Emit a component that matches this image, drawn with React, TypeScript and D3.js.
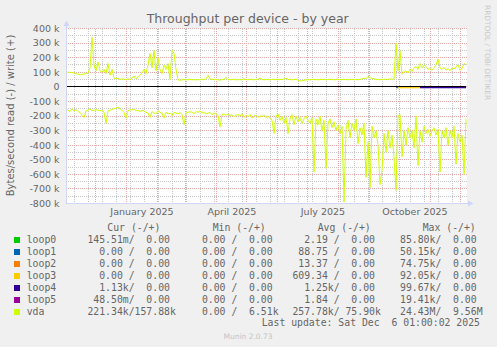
import React from 'react';
import * as d3 from 'd3';

const W = 497;
const H = 347;

// time axis: 400 days ending at last update
const startTime = Date.UTC(2024, 10, 1, 1, 0, 2);
const endTime = Date.UTC(2025, 11, 6, 1, 0, 2);
const stepDays = 2;
const minorGridStart = Date.UTC(2024, 10, 10);

// vda write (+), kB/s, one value every 2 days
const vdaWrite = [
  103, 100, 100, 98, 95, 90, 88, 82, 85, 88, 90, 95,
  130, 340, 150, 110, 170, 110, 100, 120, 90, 160, 80, 120,
  60, 55, 58, 50, 55, 52, 48, 55, 50, 60, 75, 55,
  65, 80, 95, 120, 90, 150, 230, 130, 250, 110, 200, 120,
  90, 150, 120, 160, 50, 250, 230, 120, 48, 45, 48, 50,
  47, 50, 52, 48, 50, 47, 50, 48, 52, 50, 55, 78,
  55, 50, 52, 48, 50, 45, 50, 52, 65, 50, 48, 50,
  52, 47, 50, 48, 50, 55, 50, 48, 52, 50, 48, 50,
  52, 60, 50, 48, 52, 50, 48, 50, 52, 48, 50, 52,
  50, 55, 60, 50, 52, 48, 50, 52, 45, 40, 42, 45,
  48, 50, 48, 50, 52, 50, 48, 50, 52, 50, 48, 50,
  52, 50, 48, 50, 52, 48, 50, 52, 50, 48, 50, 52,
  50, 48, 50, 52, 55, 60, 55, 72, 62, 58, 55, 50,
  52, 48, 50, 52, 50, 52, 55, 50, 55, 300, 110, 245,
  90, 100, 110, 95, 120, 105, 130, 140, 120, 160, 130, 150,
  140, 120, 125, 115, 130, 150, 190, 130, 120, 135, 115, 125,
  110, 130, 120, 140, 150, 115, 125, 160, 150,
];

// vda read (-), kB/s, one value every 2 days
const vdaRead = [
  155, 160, 170, 150, 165, 155, 170, 175, 195, 210, 165, 160,
  150, 165, 160, 158, 160, 165, 160, 175, 250, 165, 160, 155,
  150, 145, 140, 150, 160, 175, 215, 165, 155, 160, 150, 165,
  160, 170, 160, 165, 175, 180, 210, 170, 180, 185, 165, 175,
  180, 215, 175, 185, 180, 195, 175, 180, 185, 175, 190, 260,
  180, 175, 170, 175, 185, 170, 175, 165, 180, 175, 185, 180,
  175, 190, 180, 185, 195, 275, 190, 185, 195, 185, 200, 190,
  205, 195, 190, 200, 185, 210, 195, 205, 190, 215, 200, 195,
  210, 200, 205, 195, 210, 200, 215, 230, 320, 200, 185, 230,
  200, 250, 210, 320, 220, 190, 260, 200, 240, 210, 250, 220,
  200, 230, 250, 210, 585, 220, 260, 200, 300, 230, 560, 250,
  220, 280, 240, 300, 260, 320, 270, 790, 290, 230, 350, 250,
  300, 220, 390, 280, 330, 250, 620, 380, 690, 270, 350, 300,
  400, 670, 575, 320, 450, 300, 420, 330, 480, 710, 200, 190,
  480, 300, 400, 280, 350, 300, 420, 200, 540, 300, 380, 270,
  320, 290, 340, 300, 280, 330, 290, 585, 300, 350, 280, 400,
  300, 350, 270, 530, 320, 380, 330, 600, 220,
];

// small loop device reads near zero (day index, kB/s)
const loop1Days = [330, 332];
const loop1Read = [6, 6];
const loop3Days = [332, 354];
const loop3Read = [6, 6];
const loop4Days = [354, 400];
const loop4Read = [6, 6];

const yTicks = [400, 300, 200, 100, 0, -100, -200, -300, -400, -500, -600, -700, -800];
const yMinorTicks = [350, 250, 150, 50, -50, -150, -250, -350, -450, -550, -650, -750];

const seriesNames = ['loop0', 'loop1', 'loop2', 'loop3', 'loop4', 'loop5', 'vda'];
const seriesColors = ['#00CC00', '#0066B3', '#FF8000', '#FFCC00', '#330099', '#990099', '#CCFF00'];
const curCol = ['145.51m/  0.00 ', '  0.00 /  0.00 ', '  0.00 /  0.00 ', '  0.00 /  0.00 ', '  1.13k/  0.00 ', ' 48.50m/  0.00 ', '221.34k/157.88k'];
const minCol = ['  0.00 /  0.00 ', '  0.00 /  0.00 ', '  0.00 /  0.00 ', '  0.00 /  0.00 ', '  0.00 /  0.00 ', '  0.00 /  0.00 ', '  0.00 /  6.51k'];
const avgCol = ['  2.19 /  0.00 ', ' 88.75 /  0.00 ', ' 13.37 /  0.00 ', '609.34 /  0.00 ', '  1.25k/  0.00 ', '  1.84 /  0.00 ', '257.78k/ 75.90k'];
const maxCol = [' 85.80k/  0.00 ', ' 50.15k/  0.00 ', ' 74.75k/  0.00 ', ' 92.05k/  0.00 ', ' 99.67k/  0.00 ', ' 19.41k/  0.00 ', ' 24.43M/  9.56M'];
const headers = ['Cur (-/+)', 'Min (-/+)', 'Avg (-/+)', 'Max (-/+)'];

const FONT = '"DejaVu Sans", sans-serif';
const MONO = '"DejaVu Sans Mono", monospace';
const TXT = '#666666';

export default function App() {
  const DAY = 86400000;
  const x = d3.scaleUtc().domain([new Date(startTime), new Date(endTime)]).range([66, 466]);
  const y = d3.scaleLinear().domain([-800, 400]).range([203.5, 28.5]);
  const crisp = (v: number) => Math.floor(v) + 0.5;

  const dates = vdaWrite.map((_, i) => new Date(startTime + i * stepDays * DAY));
  const line = d3.line<[Date, number]>().x(d => x(d[0])).y(d => y(d[1]));
  const writePath = line(vdaWrite.map((v, i) => [dates[i], v] as [Date, number])) || '';
  const readPath = line(vdaRead.map((v, i) => [dates[i], -v] as [Date, number])) || '';
  const smallPath = (days: number[], vals: number[]) =>
    line(days.map((dd, i) => [new Date(startTime + dd * DAY), -vals[i]] as [Date, number])) || '';

  const majorV = d3.utcMonth.range(new Date(startTime), new Date(endTime));
  const minorV: Date[] = [];
  for (let t = minorGridStart; t < endTime; t += 14 * DAY) minorV.push(new Date(t));
  const labelMonths = d3.utcMonth.every(3)!.range(new Date(startTime), new Date(endTime));
  const fmt = d3.utcFormat('%B %Y');

  const cw = 5.9;
  const fieldEnds = [170, 272.7, 375, 476.7];
  const fieldStarts = fieldEnds.map(e => e - 14 * cw);
  const headerX = [107.3, 212.7, 317.7, 422.7];
  const cols = [curCol, minCol, avgCol, maxCol];

  return (
    <svg width={W} height={H} style={{ position: 'absolute', left: 0, top: 0 }}>
      <rect x={0} y={0} width={W} height={H} fill="#F0F0F0" />
      <rect x={66} y={28} width={401} height={176} fill="#FFFFFF" />

      {/* minor grid */}
      <g stroke="#C8C8C8" strokeWidth={1} strokeDasharray="1,1" shapeRendering="crispEdges">
        {minorV.map((d, i) => (
          <line key={'mv' + i} x1={crisp(x(d))} x2={crisp(x(d))} y1={28.5} y2={203.5} />
        ))}
        {yMinorTicks.map((t, i) => (
          <line key={'mh' + i} x1={66} x2={467} y1={crisp(y(t))} y2={crisp(y(t))} />
        ))}
      </g>
      {/* major grid */}
      <g stroke="#E8A8A8" strokeWidth={1} strokeDasharray="1,1" shapeRendering="crispEdges">
        {majorV.map((d, i) => (
          <line key={'Mv' + i} x1={crisp(x(d))} x2={crisp(x(d))} y1={28.5} y2={203.5} />
        ))}
        {yTicks.map((t, i) => (
          <line key={'Mh' + i} x1={66} x2={467} y1={crisp(y(t))} y2={crisp(y(t))} />
        ))}
      </g>

      {/* zero line */}
      <line x1={66} x2={466} y1={crisp(y(0))} y2={crisp(y(0))} stroke="#000" strokeWidth={1} shapeRendering="crispEdges" />

      {/* small loop device lines */}
      <path d={smallPath(loop1Days, loop1Read)} fill="none" stroke={seriesColors[1]} strokeWidth={1} />
      <path d={smallPath(loop3Days, loop3Read)} fill="none" stroke={seriesColors[3]} strokeWidth={1.2} />
      <path d={smallPath(loop4Days, loop4Read)} fill="none" stroke={seriesColors[4]} strokeWidth={1.2} />

      {/* vda */}
      <path d={writePath} fill="none" stroke={seriesColors[6]} strokeWidth={1} />
      <path d={readPath} fill="none" stroke={seriesColors[6]} strokeWidth={1} />

      {/* axes */}
      <line x1={66.5} x2={66.5} y1={204} y2={24} stroke="#CFD6F8" strokeWidth={1} shapeRendering="crispEdges" />
      <line x1={66} x2={469} y1={203.5} y2={203.5} stroke="#CFD6F8" strokeWidth={1} shapeRendering="crispEdges" />
      <path d="M63.5,26 L69.5,26 L66.5,20.5 Z" fill="#CFD6F8" />
      <path d="M468,200.5 L468,206.5 L473.5,203.5 Z" fill="#CFD6F8" />

      {/* title */}
      <text x={247.7} y={23} textAnchor="middle" fontFamily={FONT} fontSize={12.5} fill={TXT}>
        Throughput per device - by year
      </text>

      {/* y tick labels */}
      {yTicks.map((t, i) => (
        <text key={'yt' + i} x={59.5} y={y(t) + 3.4} textAnchor="end" fontFamily={FONT} fontSize={9.5} fill={TXT}>
          {t === 0 ? '0' : `${t} k`}
        </text>
      ))}

      {/* x labels */}
      {labelMonths.map((m, i) => (
        <text key={'xl' + i} x={x(d3.utcDay.offset(m, 15))} y={215.3} textAnchor="middle" fontFamily={FONT} fontSize={9.5} fill={TXT}>
          {fmt(m)}
        </text>
      ))}

      {/* y axis title */}
      <text transform="translate(14.2,115.5) rotate(-90)" textAnchor="middle" fontFamily={FONT} fontSize={10} fill={TXT}>
        Bytes/second read (-) / write (+)
      </text>

      {/* watermark */}
      <text transform="translate(485,5) rotate(90)" textAnchor="start" fontFamily={FONT} fontSize={7.4} fill="#C8C8C8">
        RRDTOOL / TOBI OETIKER
      </text>

      {/* legend */}
      {headers.map((h, i) => (
        <text key={'h' + i} x={headerX[i]} y={230.8} fontFamily={MONO} fontSize={9.8} fill={TXT} style={{ whiteSpace: 'pre' }}>
          {h}
        </text>
      ))}
      {seriesNames.map((n, r) => {
        const by = 242.5 + 12 * r;
        return (
          <g key={'row' + r}>
            <rect x={14} y={by - 5.5} width={6} height={6} fill={seriesColors[r]} />
            <text x={26.7} y={by} fontFamily={MONO} fontSize={9.8} fill={TXT}>{n}</text>
            {cols.map((c, k) => (
              <text key={'c' + k} x={fieldStarts[k]} y={by} fontFamily={MONO} fontSize={9.8} fill={TXT} style={{ whiteSpace: 'pre' }}>
                {c[r]}
              </text>
            ))}
          </g>
        );
      })}
      <text x={261.7} y={326.3} fontFamily={MONO} fontSize={9.8} fill={TXT} style={{ whiteSpace: 'pre' }}>
        {'Last update: Sat Dec  6 01:00:02 2025'}
      </text>
      <text x={248} y={339} textAnchor="middle" fontFamily={FONT} fontSize={7.5} fill="#C4C4C4">
        Munin 2.0.73
      </text>
    </svg>
  );
}
